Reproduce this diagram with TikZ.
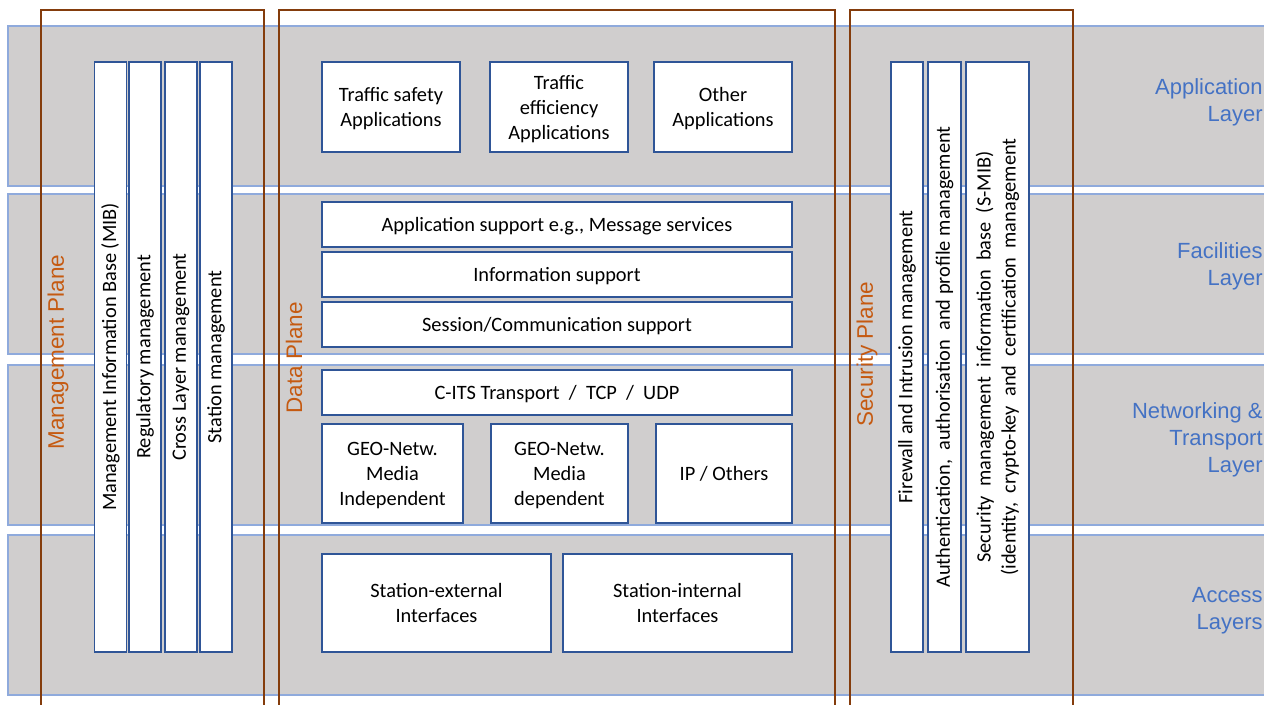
\documentclass[tikz,border=0pt]{standalone}
\usepackage{fontspec}
\setmainfont{Carlito}
\newfontfamily\arialfont{Liberation Sans}
\definecolor{bandgray}{HTML}{D0CECE}
\definecolor{bandline}{HTML}{8FAADC}
\definecolor{boxblue}{HTML}{2F5597}
\definecolor{planebrown}{HTML}{843C0C}
\definecolor{planeorange}{HTML}{C55A11}
\definecolor{layerblue}{HTML}{4472C4}
\tikzset{
  band/.style={draw=bandline,fill=bandgray,line width=0.6pt},
  plane/.style={draw=planebrown,line width=1.6pt},
  boxbase/.style={draw=boxblue,fill=white,line width=0.8pt,align=center,inner sep=0pt,
    font=\fontsize{11.6}{14.2}\selectfont},
  box/.style={boxbase,text depth=-0.6pt},
  vbox/.style={boxbase,rotate=90,minimum width=11.8cm,minimum height=0.64cm},
  planelbl/.style={text=planeorange,rotate=90,font=\arialfont\fontsize{12.8}{15}\selectfont},
  layerlbl/.style={text=layerblue,anchor=east,align=right,inner sep=0pt,
    font=\arialfont\fontsize{12.5}{15.3}\selectfont}
}
\begin{document}
\begin{tikzpicture}[x=0.02cm,y=-0.02cm]
  \useasboundingbox (0,0) rectangle (1264,704);
  % layers
  \foreach \top/\bot in {26/186,194/354,365/525,535/695}{
    \draw[band] (8,\top) rectangle (1280,\bot);
  }
  % planes
  \draw[plane] (41,10) rectangle (264,720);
  \draw[plane] (279,10) rectangle (835,720);
  \draw[plane] (850,10) rectangle (1073,720);
  \node[planelbl] (mgmtlbl) at (58,352) {Management Plane};
  \node[planelbl] (datalbl) at (294,358) {Data Plane};
  \node[planelbl] (seclbl) at (867,354) {Security Plane};
  % management plane
  \node[vbox] (mib) at (110.5,357) {Management Information Base (MIB)};
  \node[vbox] (regmgmt) at (145,357) {Regulatory management};
  \node[vbox] (crossmgmt) at (181,357) {Cross Layer management};
  \node[vbox] (statmgmt) at (216,357) {Station management};
  % data plane
  \node[box,minimum width=2.76cm,minimum height=1.8cm] (safety) at (391,107) {Traffic safety\\Applications};
  \node[box,minimum width=2.76cm,minimum height=1.8cm] (efficiency) at (559,107) {Traffic\\efficiency\\Applications};
  \node[box,minimum width=2.76cm,minimum height=1.8cm] (otherapp) at (723,107) {Other\\Applications};
  \node[box,minimum width=9.4cm,minimum height=0.9cm] (appsupp) at (557,224.5) {Application support e.g., Message services};
  \node[box,minimum width=9.4cm,minimum height=0.9cm] (infosupp) at (557,274.5) {Information support};
  \node[box,minimum width=9.4cm,minimum height=0.9cm] (sesssupp) at (557,324.5) {Session/Communication support};
  \node[box,minimum width=9.4cm,minimum height=0.9cm] (transport) at (557,392.5) {C-ITS Transport~ /~ TCP~ /~ UDP};
  \node[box,minimum width=2.82cm,minimum height=1.98cm] (geoindep) at (392.5,473.5) {GEO-Netw.\\Media\\Independent};
  \node[box,minimum width=2.74cm,minimum height=1.98cm] (geodep) at (559.5,473.5) {GEO-Netw.\\Media\\dependent};
  \node[box,minimum width=2.72cm,minimum height=1.98cm] (ipother) at (724,473.5) {IP / Others};
  \node[box,minimum width=4.58cm,minimum height=1.96cm] (extif) at (436.5,603) {Station-external\\Interfaces};
  \node[box,minimum width=4.58cm,minimum height=1.96cm] (intif) at (677.5,603) {Station-internal\\Interfaces};
  % security plane
  \node[vbox] (firewall) at (907,357) {Firewall and Intrusion management};
  \node[vbox,minimum height=0.66cm] (authmgmt) at (944.5,357) {Authentication,~ authorisation~ and profile management};
  \node[vbox,minimum height=1.26cm] (smib) at (997.5,357) {Security~ management~ information~ base~ (S-MIB)\\(identity,~ crypto-key~ and~ certification~ management};
  % layer names
  \node[layerlbl] (applayer) at (1263,102) {Application\\Layer};
  \node[layerlbl] (faclayer) at (1263,266) {Facilities\\Layer};
  \node[layerlbl] (netlayer) at (1263,440) {Networking \&\\Transport\\Layer};
  \node[layerlbl] (acclayer) at (1263,611) {Access\\Layers};
\end{tikzpicture}
\end{document}
